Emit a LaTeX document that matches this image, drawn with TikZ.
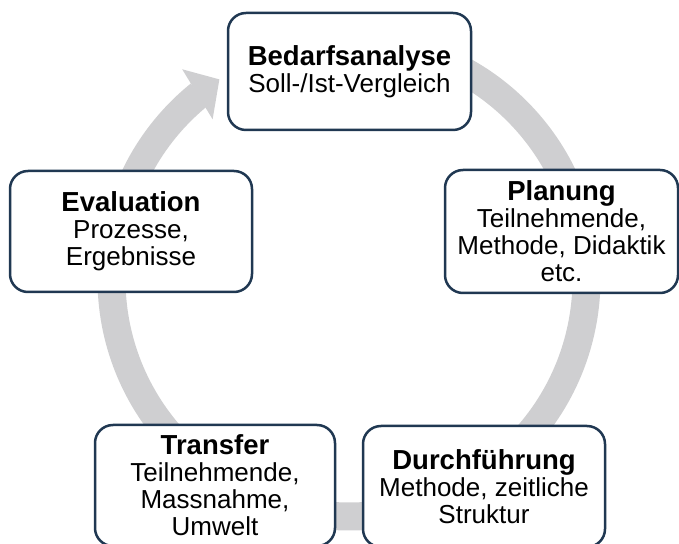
\documentclass[tikz,border=0pt]{standalone}
\usepackage{fontspec}
\setmainfont{Liberation Sans}
\definecolor{boxline}{RGB}{32,56,82}
\definecolor{ringgray}{RGB}{207,207,209}
\newcommand{\stagetitle}[1]{{\fontsize{27.5}{27}\selectfont\bfseries #1}}

\begin{document}
\begin{tikzpicture}[x=1pt,y=1pt,
every node/.style={draw=boxline,
line width=2.5pt,
fill=white,
rounded corners=18pt,
align=center,
inner sep=0pt,
font=\fontsize{26}{27}\selectfont
},
stage/.style={%
minimum width=242pt,
minimum height=121pt,
},
ring/.style={%
draw=ringgray,line width=28pt
}]
\useasboundingbox (0,0) rectangle (679,543);
\clip (0,0) rectangle (679,543);
\coordinate (c) at (349,264);
% cycle arrow behind the boxes
\draw[ring] ([shift={(129:237.5)}]c) arc[start angle=129,end angle=460,radius=237.5];
\fill[ringgray] ([shift={(128.5:268)}]c)--([shift={(123:238)}]c)--([shift={(130.5:210)}]c)--cycle;
\node[stage,minimum height=117pt,minimum width=243pt]at(349.5,471.5)(bed){\stagetitle{Bedarfsanalyse}\\Soll-/Ist-Vergleich};
\node[stage,minimum width=233pt,minimum height=123pt]at(561.5,311.5)(plan){\stagetitle{Planung}\\Teilnehmende,\\Methode, Didaktik\\etc.};
\node[stage]at(484,56.5)(durch){\stagetitle{Durchführung}\\Methode, zeitliche\\Struktur};
\node[stage,minimum width=240pt]at(215,57.5)(trans){\stagetitle{Transfer}\\Teilnehmende,\\Massnahme,\\Umwelt};
\node[stage]at(131,311.5)(eval){\stagetitle{Evaluation}\\Prozesse,\\Ergebnisse};
\end{tikzpicture}
\end{document}
